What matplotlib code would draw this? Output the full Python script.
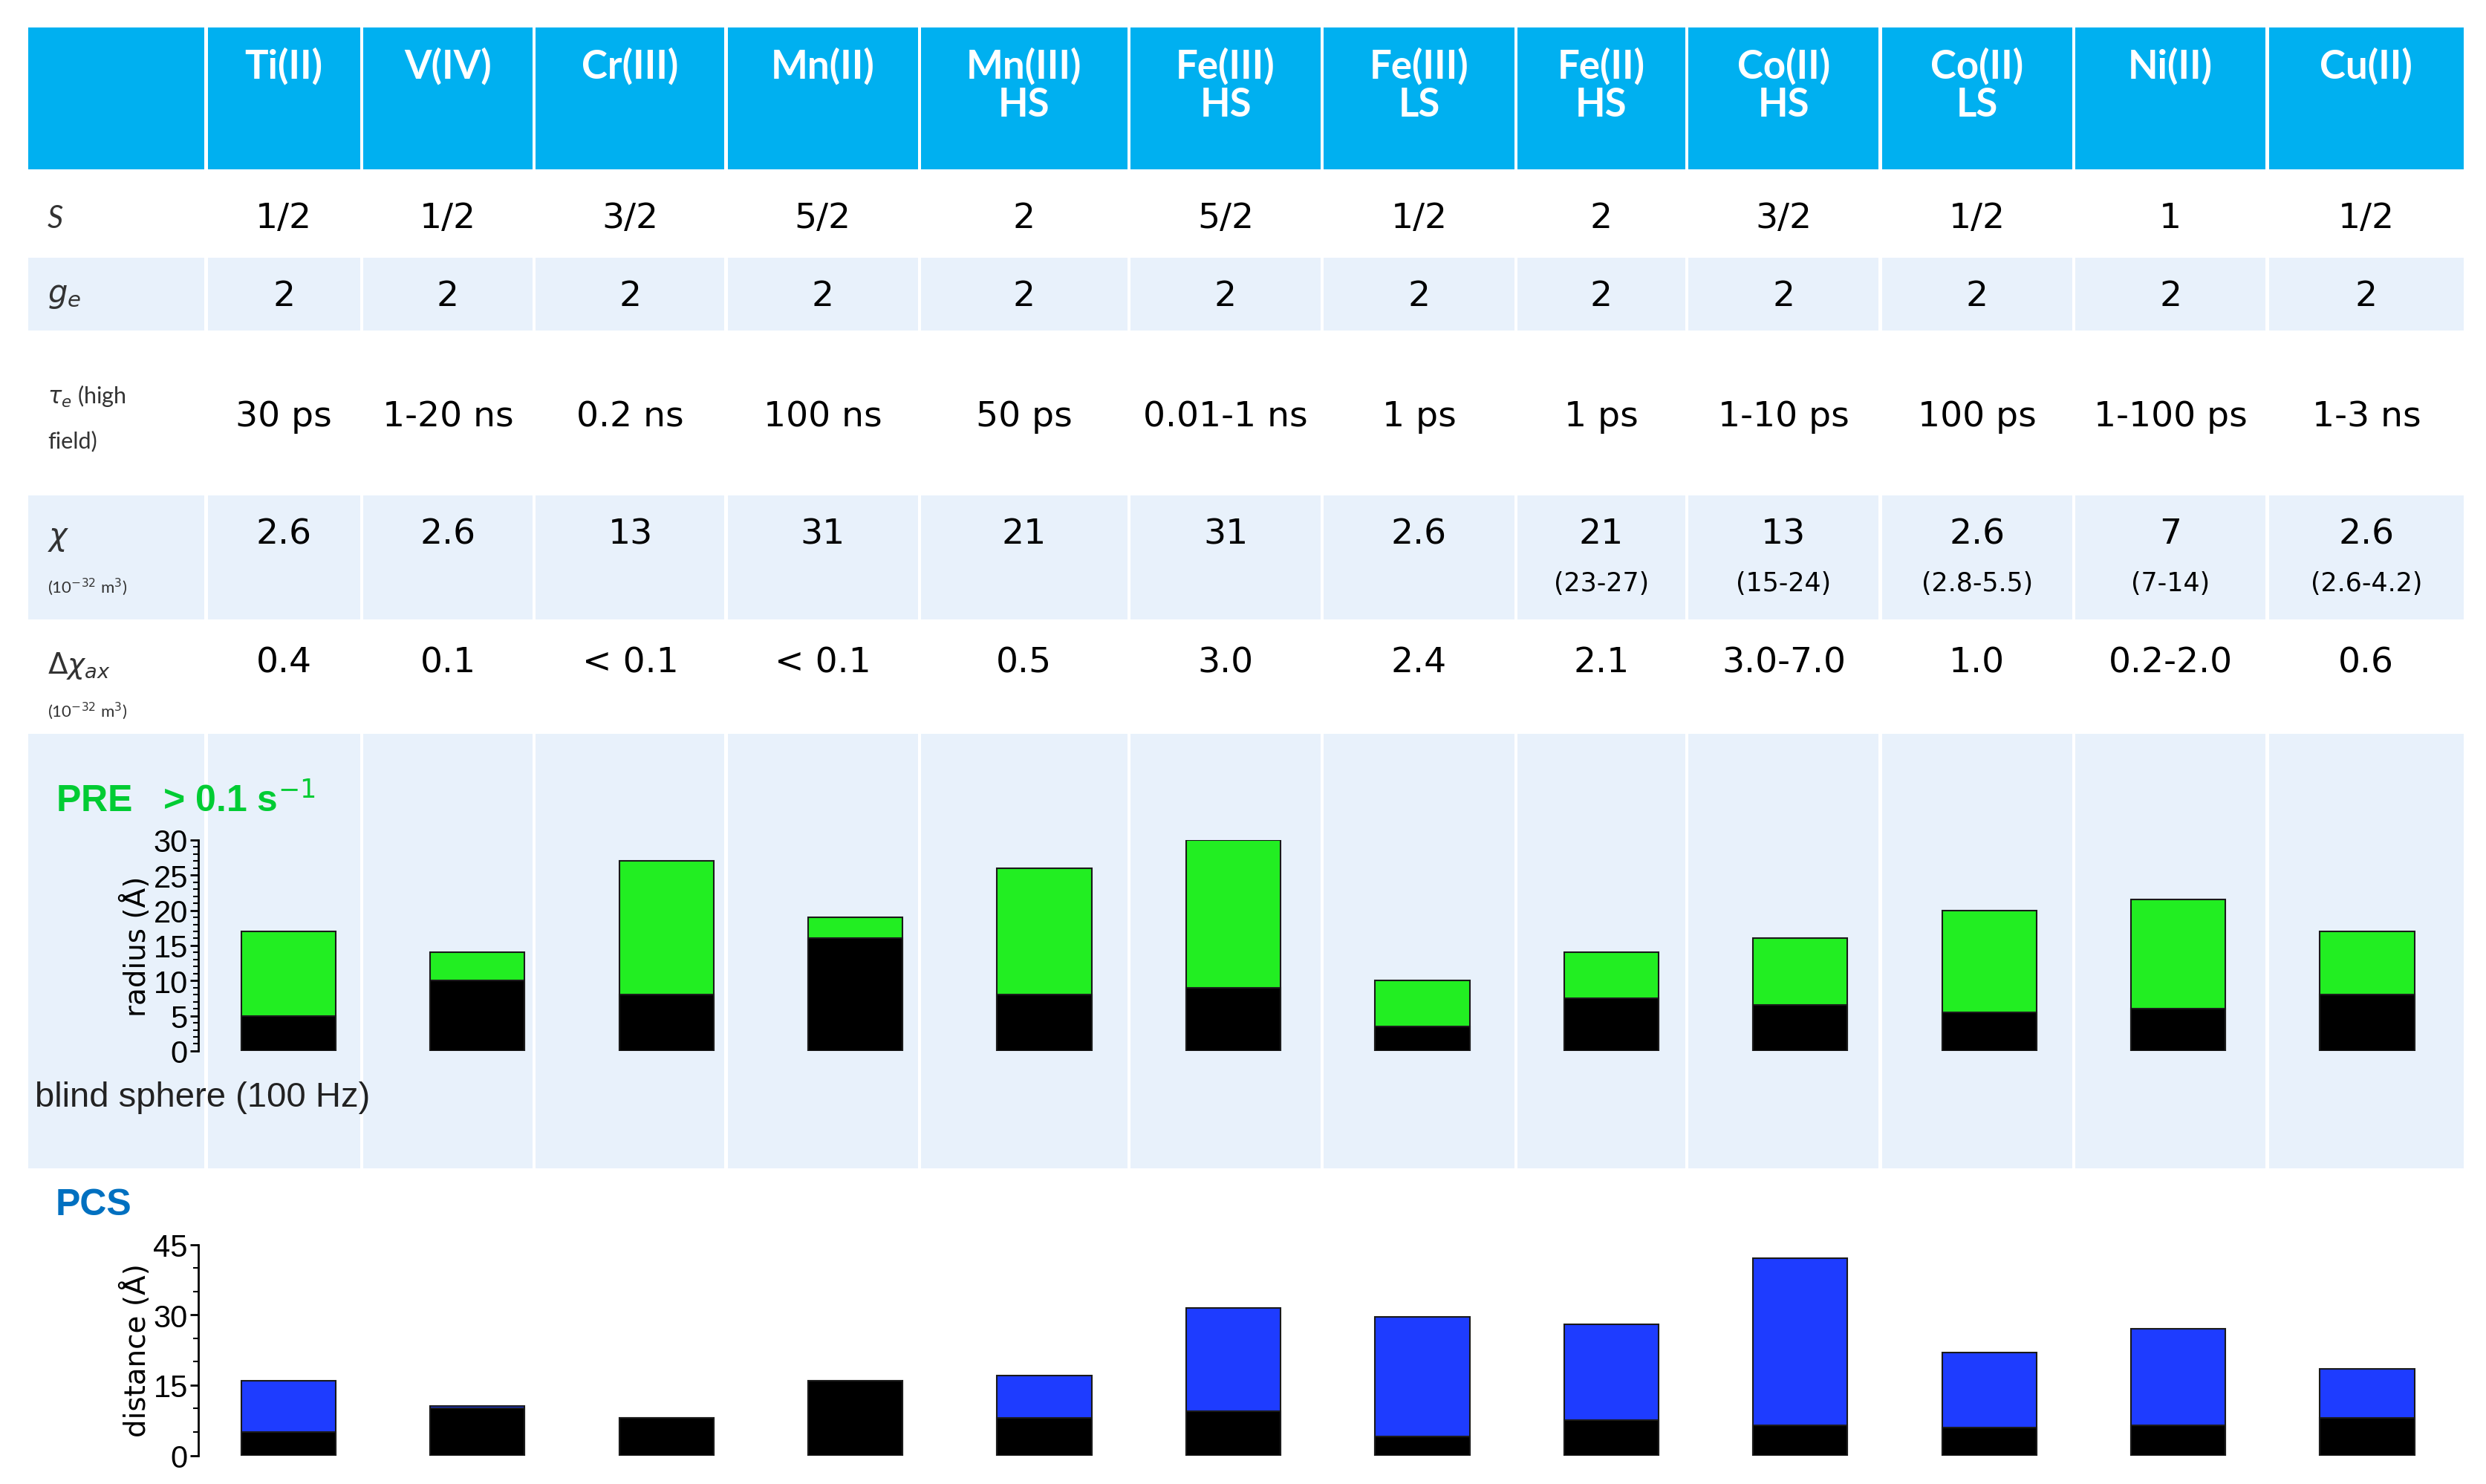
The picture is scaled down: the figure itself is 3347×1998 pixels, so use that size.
import matplotlib
matplotlib.use("Agg")
import matplotlib.pyplot as plt
from matplotlib.patches import Rectangle

# data
ions = ["Ti(II)", "V(IV)", "Cr(III)", "Mn(II)", "Mn(III)\nHS", "Fe(III)\nHS", "Fe(III)\nLS",
        "Fe(II)\nHS", "Co(II)\nHS", "Co(II)\nLS", "Ni(II)", "Cu(II)"]
spin = ["1/2", "1/2", "3/2", "5/2", "2", "5/2", "1/2", "2", "3/2", "1/2", "1", "1/2"]
g_e = ["2"] * 12
tau_e = ["30 ps", "1-20 ns", "0.2 ns", "100 ns", "50 ps", "0.01-1 ns", "1 ps", "1 ps",
         "1-10 ps", "100 ps", "1-100 ps", "1-3 ns"]
chi = ["2.6", "2.6", "13", "31", "21", "31", "2.6", "21", "13", "2.6", "7", "2.6"]
chi_range = ["", "", "", "", "", "", "", "(23-27)", "(15-24)", "(2.8-5.5)", "(7-14)", "(2.6-4.2)"]
dchi = ["0.4", "0.1", "< 0.1", "< 0.1", "0.5", "3.0", "2.4", "2.1", "3.0-7.0", "1.0", "0.2-2.0", "0.6"]

pre_total = [17, 14, 27, 19, 26, 30, 10, 14, 16, 20, 21.5, 17]
pre_blind = [5, 10, 8, 16, 8, 9, 3.5, 7.5, 6.5, 5.5, 6, 8]
pcs_total = [16, 10.5, 8, 16, 17, 31.5, 29.5, 28, 42, 22, 27, 18.5]
pcs_blind = [5, 10, 8, 16, 8, 9.5, 4, 7.5, 6.5, 6, 6.5, 8]

W, H = 1568, 936
fig = plt.figure(figsize=(33.47, 19.99), dpi=100)
bg = fig.add_axes([0, 0, 1, 1])
bg.set_xlim(0, W)
bg.set_ylim(H, 0)
bg.axis("off")

col_edges = [17, 130, 228, 337, 458, 580, 712, 834, 956, 1064, 1186, 1308, 1430, 1555]
rows = [(17, 108, "#00B0F0"), (108, 162, "white"), (162, 210, "#E8F1FB"), (210, 312, "white"),
        (312, 392, "#E8F1FB"), (392, 462, "white"), (462, 738, "#E8F1FB"), (738, 930, "white")]
for y0, y1, c in rows:
    if c == "white":
        continue
    for i in range(len(col_edges) - 1):
        bg.add_patch(Rectangle((col_edges[i] + 1, y0 + 1), col_edges[i + 1] - col_edges[i] - 2,
                               y1 - y0 - 2, facecolor=c, edgecolor="none"))

centers = [(col_edges[i] + col_edges[i + 1]) / 2 for i in range(1, 13)]
fs = 34
for i, cx in enumerate(centers):
    bg.text(cx, 30, ions[i], ha="center", va="top", fontsize=38, color="white",
            fontweight="bold", family="Lato", linespacing=1.05)
    bg.text(cx, 138, spin[i], ha="center", va="center", fontsize=fs)
    bg.text(cx, 187, g_e[i], ha="center", va="center", fontsize=fs)
    bg.text(cx, 263, tau_e[i], ha="center", va="center", fontsize=fs)
    bg.text(cx, 337, chi[i], ha="center", va="center", fontsize=fs)
    if chi_range[i]:
        bg.text(cx, 368, chi_range[i], ha="center", va="center", fontsize=25)
    bg.text(cx, 418, dchi[i], ha="center", va="center", fontsize=fs)

lab = dict(family="Lato", color="#333333")
bg.text(30, 138, "S", fontsize=30, style="italic", va="center", **lab)
bg.text(30, 187, r"$g_e$", fontsize=30, va="center", **lab)
bg.text(30, 250, r"$\tau_e$ (high", fontsize=22, va="center", **lab)
bg.text(30, 278, "field)", fontsize=22, va="center", **lab)
bg.text(30, 340, r"$\chi$", fontsize=30, va="center", **lab)
bg.text(30, 370, r"(10$^{-32}$ m$^3$)", fontsize=16, va="center", **lab)
bg.text(30, 420, r"$\Delta\chi_{ax}$", fontsize=28, va="center", **lab)
bg.text(30, 448, r"(10$^{-32}$ m$^3$)", fontsize=16, va="center", **lab)

bg.text(35, 505, r"PRE   > 0.1 s$^{-1}$", fontsize=36, color="#00CC33", fontweight="bold",
        va="center", family="Liberation Sans")
bg.text(22, 692, "blind sphere (100 Hz)", fontsize=34, va="center", family="Liberation Sans",
        color="#222222")
bg.text(35, 760, "PCS", fontsize=36, color="#0070C0", fontweight="bold", va="center",
        family="Liberation Sans")

x = list(range(12))
xl = (-(182 - 125) / 119.2, 11 + (1555 - 1493) / 119.2)


def bar_axes(y_zero, y_top, top_val, label, total, blind, color, ticks, minor):
    ax = fig.add_axes([125 / W, 1 - y_zero / H, (1555 - 125) / W, (y_zero - y_top) / H])
    ax.patch.set_alpha(0)
    ax.bar(x, total, width=0.5, color=color, edgecolor="#1a1a1a", linewidth=1.5)
    ax.bar(x, blind, width=0.5, color="black", edgecolor="#1a1a1a", linewidth=1.5)
    ax.set_xlim(*xl)
    ax.set_ylim(0, top_val)
    ax.set_yticks(ticks)
    if minor:
        ax.set_yticks(minor, minor=True)
    ax.tick_params(axis="y", labelsize=30, length=8, width=2, pad=2)
    ax.tick_params(axis="y", which="minor", length=5, width=1.5)
    ax.set_xticks([])
    for s in ["top", "right", "bottom"]:
        ax.spines[s].set_visible(False)
    ax.spines["left"].set_linewidth(2)
    ax.set_ylabel(label, fontsize=28, labelpad=2)
    for t in ax.get_yticklabels():
        t.set_family("Liberation Sans")
    return ax


bar_axes(663, 530, 30, "radius (Å)", pre_total, pre_blind, "#22EE22",
         [0, 5, 10, 15, 20, 25, 30], [i + 0.0 for i in range(0, 31)])
bar_axes(918, 785, 45, "distance (Å)", pcs_total, pcs_blind, "#1E3CFF",
         [0, 15, 30, 45], [i * 5 for i in range(10)])

fig.savefig("out.png", dpi=100)
